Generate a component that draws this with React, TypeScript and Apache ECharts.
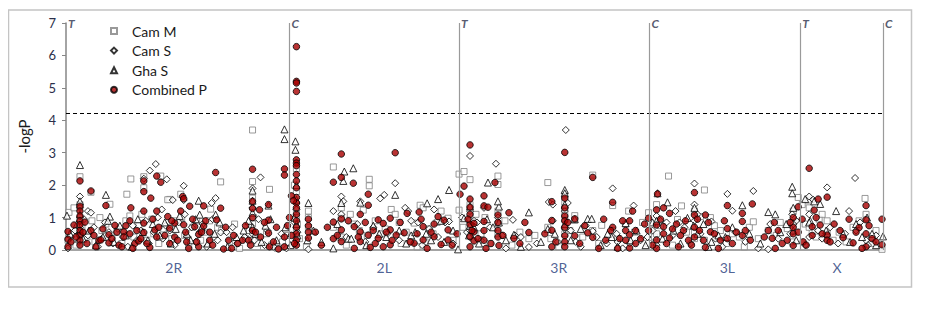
import React, { useEffect, useRef } from "react";
import * as echarts from "echarts";

// x positions are in genome-axis units (0..820), y is -logP
const armNames = ["2R", "2L", "3R", "3L", "X"];
const armLabelPos = [108, 319, 494, 663, 773];
const boundaryPos = [0, 224, 394, 585, 736, 819];
const boundaryTags = ["T", "C", "T", "C", "T", "C"];
const threshold = 4.22;
const yTicks = [0, 1, 2, 3, 4, 5, 6, 7];

const camM: number[][] = [
  [3,1.16],[8,1.3],[14,2.26],[25,1.78],[34,1.0],[44,1.41],[61,1.72],[65,2.19],[78,2.26],[78,1.92],[95,2.28],[104,1.56],[115,1.72],[145,1.26],[155,2.1],[187,3.7],[187,2.11],[204,1.87],[231,2.5],[243,1.2],[243,1.0],[268,2.56],
  [2,0.3],[6,0.5],[10,0.15],[16,0.7],[21,0.4],[26,0.9],[29,0.25],[36,0.6],[40,0.8],[46,0.35],[51,0.55],[56,0.2],[60,0.9],[64,1.05],[68,0.4],[73,0.75],[76,1.1],[81,0.3],[86,0.95],[88,0.5],[93,0.2],[98,0.65],[102,1.55],[106,0.35],[111,0.9],[116,1.0],[119,0.45],[123,0.15],[127,0.7],[131,0.9],[135,0.3],[139,0.55],[144,0.9],[148,0.4],[152,0.7],[156,0.6],[164,0.25],[169,0.8],[174,0.05],[180,0.35],[184,0.6],[188,1.0],[192,0.2],[198,0.1],[201,0.5],[206,0.15],[212,0.05],[217,0.25],[222,0.45],[229,2.0],[231,1.2],[232,0.8],[234,0.35],[241,0.1],[243,0.7],
  [268,0.7],[276,1.3],[285,1.1],[294,0.6],[298,1.23],[304,2.18],[304,1.98],[310,0.9],[316,0.5],[326,1.25],[330,1.1],[336,0.2],[346,0.25],[349,0.83],[355,1.38],[358,1.3],[360,0.25],[368,0.5],[376,1.2],[383,0.98],[394,2.34],[399,2.42],[394,1.23],[405,2.17],[405,0.45],[411,1.1],[420,1.0],[433,2.28],[433,0.5],[433,2.02],[464,0.35],[483,2.08],[483,0.7],[500,1.48],[500,1.3],[500,0.95],[510,1.06],[510,0.92],[528,2.31],[528,0.6],[537,0.76],[548,1.37],[548,0.6],[561,0.8],
  [274,0.4],[281,0.15],[289,0.8],[302,0.45],[320,0.65],[334,0.85],[341,0.55],[352,0.1],[364,0.65],[372,0.85],[388,0.3],[398,0.7],[416,0.5],[425,0.2],[440,0.9],[447,0.15],[455,0.55],[470,0.45],[486,0.35],[494,0.1],[505,0.6],[518,0.4],[534,0.2],[553,0.35],
  [564,1.2],[584,1.15],[584,0.2],[604,2.28],[613,0.94],[617,1.36],[636,1.03],[640,1.85],[646,1.0],[640,0.3],[656,0.6],[675,0.4],[685,0.7],[689,0.87],[704,0.6],[723,0.66],[734,1.62],[738,1.4],[744,1.54],[748,0.6],[755,0.95],[763,0.9],[763,0.5],[769,0.3],[789,0.7],[795,0.9],[801,1.59],[802,1.1],[808,0.2],[818,0.02],
  [570,0.55],[578,0.85],[590,0.4],[596,0.75],[608,0.15],[622,0.55],[630,0.35],[650,0.75],[662,0.2],[668,0.5],[680,0.1],[694,0.35],[712,0.45],[716,0.85],[728,0.25],[741,0.8],[752,0.4],[758,1.1],[775,0.55],[782,0.25],[812,0.6],
  [14,1.4],[14,0.95],[14,0.5],[187,1.6],[187,0.8],[187,0.3],[231,1.8],[231,1.0],[231,0.6],[276,1.0],[276,0.4],[405,1.4],[405,0.9],[433,1.2],[433,0.8],[500,1.7],[500,1.1],[500,0.5],[592,1.4],[592,0.5],[630,1.2],[630,0.55],[729,1.2],[729,0.85],[745,1.3],[745,0.7]
];

const camS: number[][] = [
  [22,1.2],[25,1.15],[14,1.65],[78,2.2],[84,2.45],[90,2.65],[96,1.25],[101,2.18],[107,1.54],[118,1.98],[118,1.54],[146,1.45],[150,1.6],[155,0.54],[195,2.24],[187,1.9],
  [2,0.05],[5,0.4],[9,0.6],[13,0.25],[18,0.95],[22,0.45],[28,0.7],[32,0.1],[36,0.35],[39,0.85],[43,0.55],[47,0.2],[52,0.65],[57,0.4],[62,0.1],[67,0.75],[71,0.3],[75,0.6],[80,0.9],[83,0.2],[88,0.55],[92,1.0],[97,0.35],[100,0.75],[104,0.6],[109,0.15],[113,0.85],[119,1.1],[122,0.4],[126,0.7],[130,0.25],[134,0.55],[137,0.8],[141,0.1],[147,0.95],[152,0.3],[161,0.55],[167,0.7],[172,0.2],[179,0.4],[185,0.75],[189,0.3],[193,0.95],[199,0.15],[202,0.6],[208,0.1],[216,0.5],[221,0.05],[229,0.85],[232,0.55],
  [243,0.02],[268,1.2],[276,1.65],[278,1.5],[295,1.5],[315,1.59],[319,1.7],[330,2.06],[340,1.3],[343,1.2],[353,0.85],[369,1.25],[384,0.88],[405,2.9],[405,0.4],[431,2.66],[419,1.3],[409,0.9],[448,0.93],[450,0.45],[464,0.09],[484,1.48],[488,1.4],[503,1.45],[511,0.25],[528,0.58],[548,1.9],[553,0.25],[501,3.7],
  [281,0.4],[292,0.8],[300,0.25],[308,0.7],[322,0.5],[334,0.3],[346,0.9],[357,0.15],[364,0.65],[373,0.4],[380,0.85],[388,0.2],[397,1.0],[402,0.55],[412,0.85],[416,0.3],[425,0.7],[437,0.45],[441,0.05],[456,0.4],[472,0.2],[488,0.9],[493,0.25],[506,0.6],[516,0.1],[521,0.75],[532,0.4],[542,0.2],[552,0.5],[558,0.05],
  [569,1.37],[565,0.2],[583,0.4],[596,0.9],[611,1.2],[615,0.85],[630,2.05],[630,1.4],[633,1.1],[647,0.88],[663,1.73],[668,1.21],[689,1.82],[704,0.02],[728,1.1],[745,1.65],[749,1.55],[763,1.93],[785,1.2],[791,2.22],[792,0.6],[802,0.3],
  [576,0.3],[588,0.6],[592,0.15],[602,0.85],[608,0.45],[620,0.7],[626,0.2],[636,0.5],[651,0.35],[658,0.1],[671,0.55],[681,0.25],[694,0.05],[706,0.8],[714,0.35],[726,0.5],[732,0.9],[741,0.15],[754,0.6],[758,0.35],[766,0.7],[774,0.2],[781,0.5],[796,0.85],[804,0.15],[812,0.45],
  [14,1.3],[14,0.7],[187,1.3],[187,0.5],[231,1.25],[231,0.4],[276,1.1],[405,1.2],[405,0.6],[433,1.0],[500,1.2],[500,0.65],[592,1.05],[630,0.9],[729,0.8],[745,1.1],[745,0.4]
];

const ghaS: number[][] = [
  [1,1.06],[14,2.62],[40,1.7],[44,1.03],[133,1.52],[134,1.09],[150,1.09],[187,1.83],[187,1.52],[203,1.37],[219,3.72],[219,3.42],[230,3.35],[230,3.09],[243,1.45],
  [4,0.5],[11,0.8],[17,0.35],[23,0.6],[30,0.15],[37,0.4],[42,0.9],[48,0.25],[54,0.75],[60,0.45],[66,0.1],[72,0.95],[77,0.55],[82,0.3],[87,0.8],[94,0.45],[99,0.85],[105,0.2],[110,0.65],[114,1.05],[121,0.5],[125,0.3],[130,0.95],[136,0.7],[142,0.2],[149,0.5],[154,0.85],[162,0.1],[171,0.4],[178,0.6],[183,0.9],[190,0.5],[196,0.25],[200,0.75],[205,0.95],[211,0.3],[220,0.7],[225,0.15],[229,1.0],[232,0.45],[242,0.3],
  [279,2.42],[278,2.13],[288,2.52],[295,1.46],[330,1.7],[362,1.44],[373,1.57],[384,1.85],[423,2.08],[434,1.34],[464,1.16],[500,1.85],[500,1.75],[523,0.96],[527,0.96],[268,0.05],[283,0.35],[314,0.5],[334,0.6],[346,0.45],[361,0.5],[379,0.25],[393,0.02],[399,0.98],[409,0.7],[422,0.95],[434,0.85],[449,0.47],[483,0.65],[510,0.95],[547,0.4],[553,0.1],[561,0.83],
  [248,0.6],[256,0.25],[272,0.8],[286,0.35],[301,0.15],[308,0.75],[321,0.4],[341,0.2],[350,0.55],[366,0.3],[376,0.9],[388,0.6],[404,0.45],[414,0.2],[428,0.7],[441,0.3],[456,0.1],[476,0.25],[490,0.5],[506,0.3],[516,0.65],[536,0.15],[543,0.5],
  [593,1.75],[603,1.47],[623,0.99],[629,0.75],[647,0.25],[654,0.45],[678,1.38],[685,0.5],[704,1.17],[711,1.1],[728,1.95],[728,1.75],[741,1.57],[750,1.5],[756,1.42],[772,1.2],[779,0.5],[803,1.0],[808,0.5],[819,0.42],
  [566,0.3],[572,0.6],[581,0.15],[588,0.85],[598,0.35],[609,0.6],[616,0.2],[633,0.5],[639,0.8],[644,0.1],[661,0.4],[668,0.7],[696,0.2],[716,0.55],[722,0.8],[732,0.3],[746,0.9],[762,0.6],[786,0.25],[792,0.8],[798,0.4],[812,0.15],
  [14,1.5],[14,1.1],[14,0.6],[187,1.15],[187,0.7],[231,2.0],[231,1.55],[231,0.8],[276,1.45],[405,1.35],[405,0.75],[433,1.5],[500,1.4],[500,0.8],[592,0.9],[630,1.3],[729,1.3],[729,0.6],[745,0.85]
];

const combinedP: number[][] = [
  [14,2.13],[14,1.35],[14,1.2],[14,1.05],[14,0.9],[14,0.78],[14,0.6],[14,0.45],[14,0.3],[14,0.15],
  [25,1.82],[40,1.37],[65,1.3],[78,2.13],[78,1.8],[85,1.6],[91,2.28],[91,1.2],[95,2.09],[117,1.65],[124,1.35],[150,2.39],[155,1.29],[187,2.49],[194,1.24],[203,1.4],[219,2.5],[219,2.31],
  [231,6.27],[231,5.2],[231,5.15],[231,4.89],[231,2.78],[231,2.68],[231,2.6],[231,2.33],[231,2.13],[231,1.92],[231,1.62],[231,1.45],[231,1.3],[231,1.1],[231,0.9],[231,0.7],[231,0.5],[231,0.3],[231,0.15],[226,1.67],
  [2,0.57],[2,0.33],[2,0.1],[8,0.77],[19,0.86],[25,0.6],[33,0.3],[35,0.31],[43,0.47],[43,0.22],[49,0.76],[53,0.15],[58,0.56],[58,0.4],[64,0.9],[64,0.5],[69,0.2],[73,0.28],[78,1.2],[78,0.83],[78,0.54],[84,0.08],[89,0.62],[91,0.4],[102,1.03],[104,0.67],[104,0.2],[109,0.83],[109,0.4],[115,1.2],[118,1.58],[118,0.78],[121,0.25],[129,0.72],[133,0.48],[133,0.1],[138,1.36],[138,0.74],[144,0.55],[144,0.3],[151,0.93],[158,0.03],[166,0.05],[168,0.45],[177,0.3],[183,0.3],[187,1.28],[187,1.5],[187,1.0],[187,0.6],[195,0.4],[203,0.92],[203,0.52],[204,0.1],[213,0.03],[219,0.4],[219,0.1],[226,0.45],[228,1.52],[243,0.95],[243,0.75],[243,0.55],[243,0.37],
  [5,0.25],[10,0.4],[17,0.55],[21,0.2],[28,0.45],[30,0.1],[37,0.65],[46,0.35],[51,0.55],[56,0.1],[60,0.75],[67,0.05],[71,0.6],[75,0.35],[81,0.2],[87,0.95],[93,0.7],[99,0.45],[106,0.9],[112,0.3],[120,0.55],[123,0.05],[127,0.95],[131,0.25],[136,0.55],[140,0.9],[147,0.15],[160,0.7],[163,0.3],[172,0.2],[180,0.75],[185,0.15],[190,0.55],[199,0.85],[208,0.25],[211,0.7],[222,0.75],[224,1.0],[229,0.2],
  [268,2.09],[268,0.86],[268,0.35],[276,2.96],[276,2.24],[276,0.96],[276,0.62],[276,0.26],[288,2.06],[289,0.72],[289,0.05],[295,1.1],[295,0.56],[295,0.26],[303,1.72],[303,1.38],[303,0.46],[305,0.08],[313,0.93],[313,0.36],[318,0.82],[318,0.1],[325,0.98],[325,0.62],[325,0.16],[330,3.0],[331,0.46],[339,0.53],[342,1.13],[349,0.21],[354,1.17],[358,0.72],[358,0.31],[362,0.05],[369,0.8],[369,0.41],[373,1.03],[376,0.17],[379,0.92],[383,0.62],[383,0.31],[395,1.72],[399,1.97],[405,3.24],[405,1.57],[405,1.32],[405,1.1],[405,0.79],[405,0.41],[405,0.1],[409,0.82],[409,0.56],[409,0.28],[419,1.67],[419,1.36],[419,0.88],[419,0.6],[419,0.3],[421,0.05],[423,1.32],[430,2.08],[433,1.08],[433,0.85],[433,0.6],[433,0.4],[434,0.14],[449,0.36],[464,0.54],[487,1.49],[487,0.91],[487,0.61],[487,0.1],[500,3.01],[500,1.6],[500,1.3],[500,1.05],[500,0.9],[500,0.7],[500,0.44],[500,0.25],[500,0.1],[510,0.96],[510,0.44],[523,0.53],[528,2.24],[528,0.39],[534,0.05],[539,0.95],[548,1.47],[548,0.7],[553,0.05],[561,0.6],[561,0.3],
  [250,0.55],[256,0.15],[262,0.7],[272,0.45],[283,0.9],[293,0.4],[300,0.85],[308,0.6],[310,0.2],[321,0.55],[327,0.3],[335,0.85],[345,0.25],[352,0.5],[356,0.95],[366,0.55],[387,0.15],[392,0.5],[403,0.95],[407,0.6],[413,0.35],[426,0.2],[438,0.45],[444,1.15],[455,0.2],[460,0.85],[480,0.5],[491,0.25],[503,0.85],[515,0.2],[520,0.75],[541,0.3],[546,0.6],[555,0.35],[558,0.9],
  [565,0.9],[565,0.47],[565,0.06],[571,0.6],[571,0.2],[584,0.98],[584,0.6],[593,1.73],[592,1.24],[592,0.77],[592,0.31],[592,0.05],[599,1.3],[599,0.72],[599,0.5],[605,1.13],[605,0.37],[612,0.8],[614,0.1],[619,0.6],[624,0.3],[630,1.77],[630,1.08],[630,0.7],[630,0.4],[635,0.6],[641,1.08],[641,0.08],[646,0.56],[654,0.05],[656,0.3],[663,1.37],[663,0.66],[663,0.35],[678,1.13],[678,0.88],[678,0.45],[686,0.3],[688,1.42],[704,0.6],[708,0.36],[710,0.85],[711,0.05],[723,0.3],[729,1.0],[729,0.7],[729,0.5],[729,0.14],[734,1.33],[734,0.55],[739,0.25],[745,2.52],[748,0.72],[748,0.45],[750,1.23],[754,1.57],[756,0.77],[763,1.63],[763,0.46],[763,0.3],[779,0.38],[785,0.95],[789,0.22],[795,0.69],[802,1.37],[802,0.93],[802,0.5],[802,0.1],[808,0.35],[818,0.95],[818,0.16],
  [568,1.2],[576,0.35],[580,0.8],[588,0.15],[596,0.95],[602,0.2],[608,0.65],[616,0.45],[621,0.9],[627,0.15],[633,0.95],[639,0.3],[644,0.85],[650,0.5],[660,0.9],[668,0.2],[672,0.55],[681,0.6],[700,0.4],[714,0.6],[718,0.2],[726,0.85],[738,0.95],[742,0.15],[752,1.0],[758,0.5],[766,0.25],[770,0.8],[776,0.6],[792,0.55],[798,0.05],[805,0.75],[812,0.25]
];

const FONT = "Lato, 'Open Sans', sans-serif";

export default function App() {
  const ref = useRef<HTMLDivElement>(null);
  useEffect(() => {
    if (!ref.current) return;
    const chart = echarts.init(ref.current, null, { renderer: "svg" });
    const open = (border: string) => ({ color: "#ffffff", borderColor: border, borderWidth: 1 });
    chart.setOption({
      animation: false,
      backgroundColor: "#ffffff",
      textStyle: { fontFamily: FONT },
      graphic: [
        {
          type: "rect",
          shape: { x: 0.5, y: 2, width: 903, height: 277 },
          style: { fill: "none", stroke: "#c4c4c4", lineWidth: 1.5 },
          silent: true,
        },
      ],
      grid: { left: 56, top: 15, right: 50, bottom: 51 },
      legend: {
        data: ["Cam M", "Cam S", "Gha S", "Combined P"],
        orient: "vertical",
        left: 97,
        top: 11,
        itemWidth: 6,
        itemHeight: 6,
        itemGap: 5.6,
        textStyle: { fontSize: 14, color: "#1a1a1a", fontFamily: FONT, lineHeight: 14, padding: [0, 0, 0, 10] },
      },
      xAxis: {
        type: "value",
        min: 0,
        max: 820,
        axisLine: { show: true, lineStyle: { color: "#868686", width: 1.5 } },
        axisTick: { show: false },
        axisLabel: { show: false },
        splitLine: { show: false },
      },
      yAxis: {
        type: "value",
        min: yTicks[0],
        max: yTicks[yTicks.length - 1],
        interval: 1,
        name: "-logP",
        nameLocation: "middle",
        nameGap: 35,
        nameTextStyle: { fontSize: 15, color: "#1a1a1a", fontFamily: FONT },
        axisLine: { show: true, lineStyle: { color: "#868686", width: 1.5 } },
        axisTick: { show: true, length: 4, lineStyle: { color: "#868686" } },
        axisLabel: { fontSize: 13, color: "#2b2f4a", margin: 10, fontFamily: FONT },
        splitLine: { show: false },
      },
      series: [
        {
          name: "Cam M",
          type: "scatter",
          symbol: "rect",
          symbolSize: 6,
          itemStyle: open("#7f7f7f"),
          data: camM,
          markLine: {
            silent: true,
            symbol: "none",
            label: { show: false },
            lineStyle: { color: "#000000", type: [4, 3], width: 1.2 },
            data: [{ yAxis: threshold }],
          },
        },
        {
          name: "Cam S",
          type: "scatter",
          symbol: "diamond",
          symbolSize: 7,
          itemStyle: open("#000000"),
          data: camS,
          markLine: {
            silent: true,
            symbol: "none",
            label: { show: false },
            lineStyle: { color: "#9a9a9a", type: "solid", width: 1.2 },
            data: boundaryPos.slice(1).map((b) => ({ xAxis: b })),
          },
        },
        {
          name: "Gha S",
          type: "scatter",
          symbol: "triangle",
          symbolSize: 7,
          itemStyle: open("#000000"),
          data: ghaS,
        },
        {
          name: "Combined P",
          type: "scatter",
          symbol: "circle",
          symbolSize: 6.5,
          itemStyle: { color: "#a80000", borderColor: "#000000", borderWidth: 1 },
          data: combinedP,
        },
        {
          name: "tags",
          type: "scatter",
          symbolSize: 0,
          clip: false,
          silent: true,
          data: boundaryPos.map((b, i) => ({ value: [b, 7], name: boundaryTags[i] })),
          label: {
            show: true,
            position: "right",
            distance: 2,
            formatter: (p: any) => p.name,
            fontSize: 12,
            fontWeight: "bold",
            fontStyle: "italic",
            color: "#2b2f4a",
            fontFamily: FONT,
          },
        },
        {
          name: "arms",
          type: "scatter",
          symbolSize: 0,
          clip: false,
          silent: true,
          data: armLabelPos.map((x, i) => ({ value: [x, 0], name: armNames[i] })),
          label: {
            show: true,
            position: "bottom",
            distance: 10,
            formatter: (p: any) => p.name,
            fontSize: 14,
            color: "#1f3a7a",
            fontFamily: FONT,
          },
        },
      ],
    });
    return () => chart.dispose();
  }, []);
  return <div ref={ref} style={{ width: 926, height: 293 }} />;
}
